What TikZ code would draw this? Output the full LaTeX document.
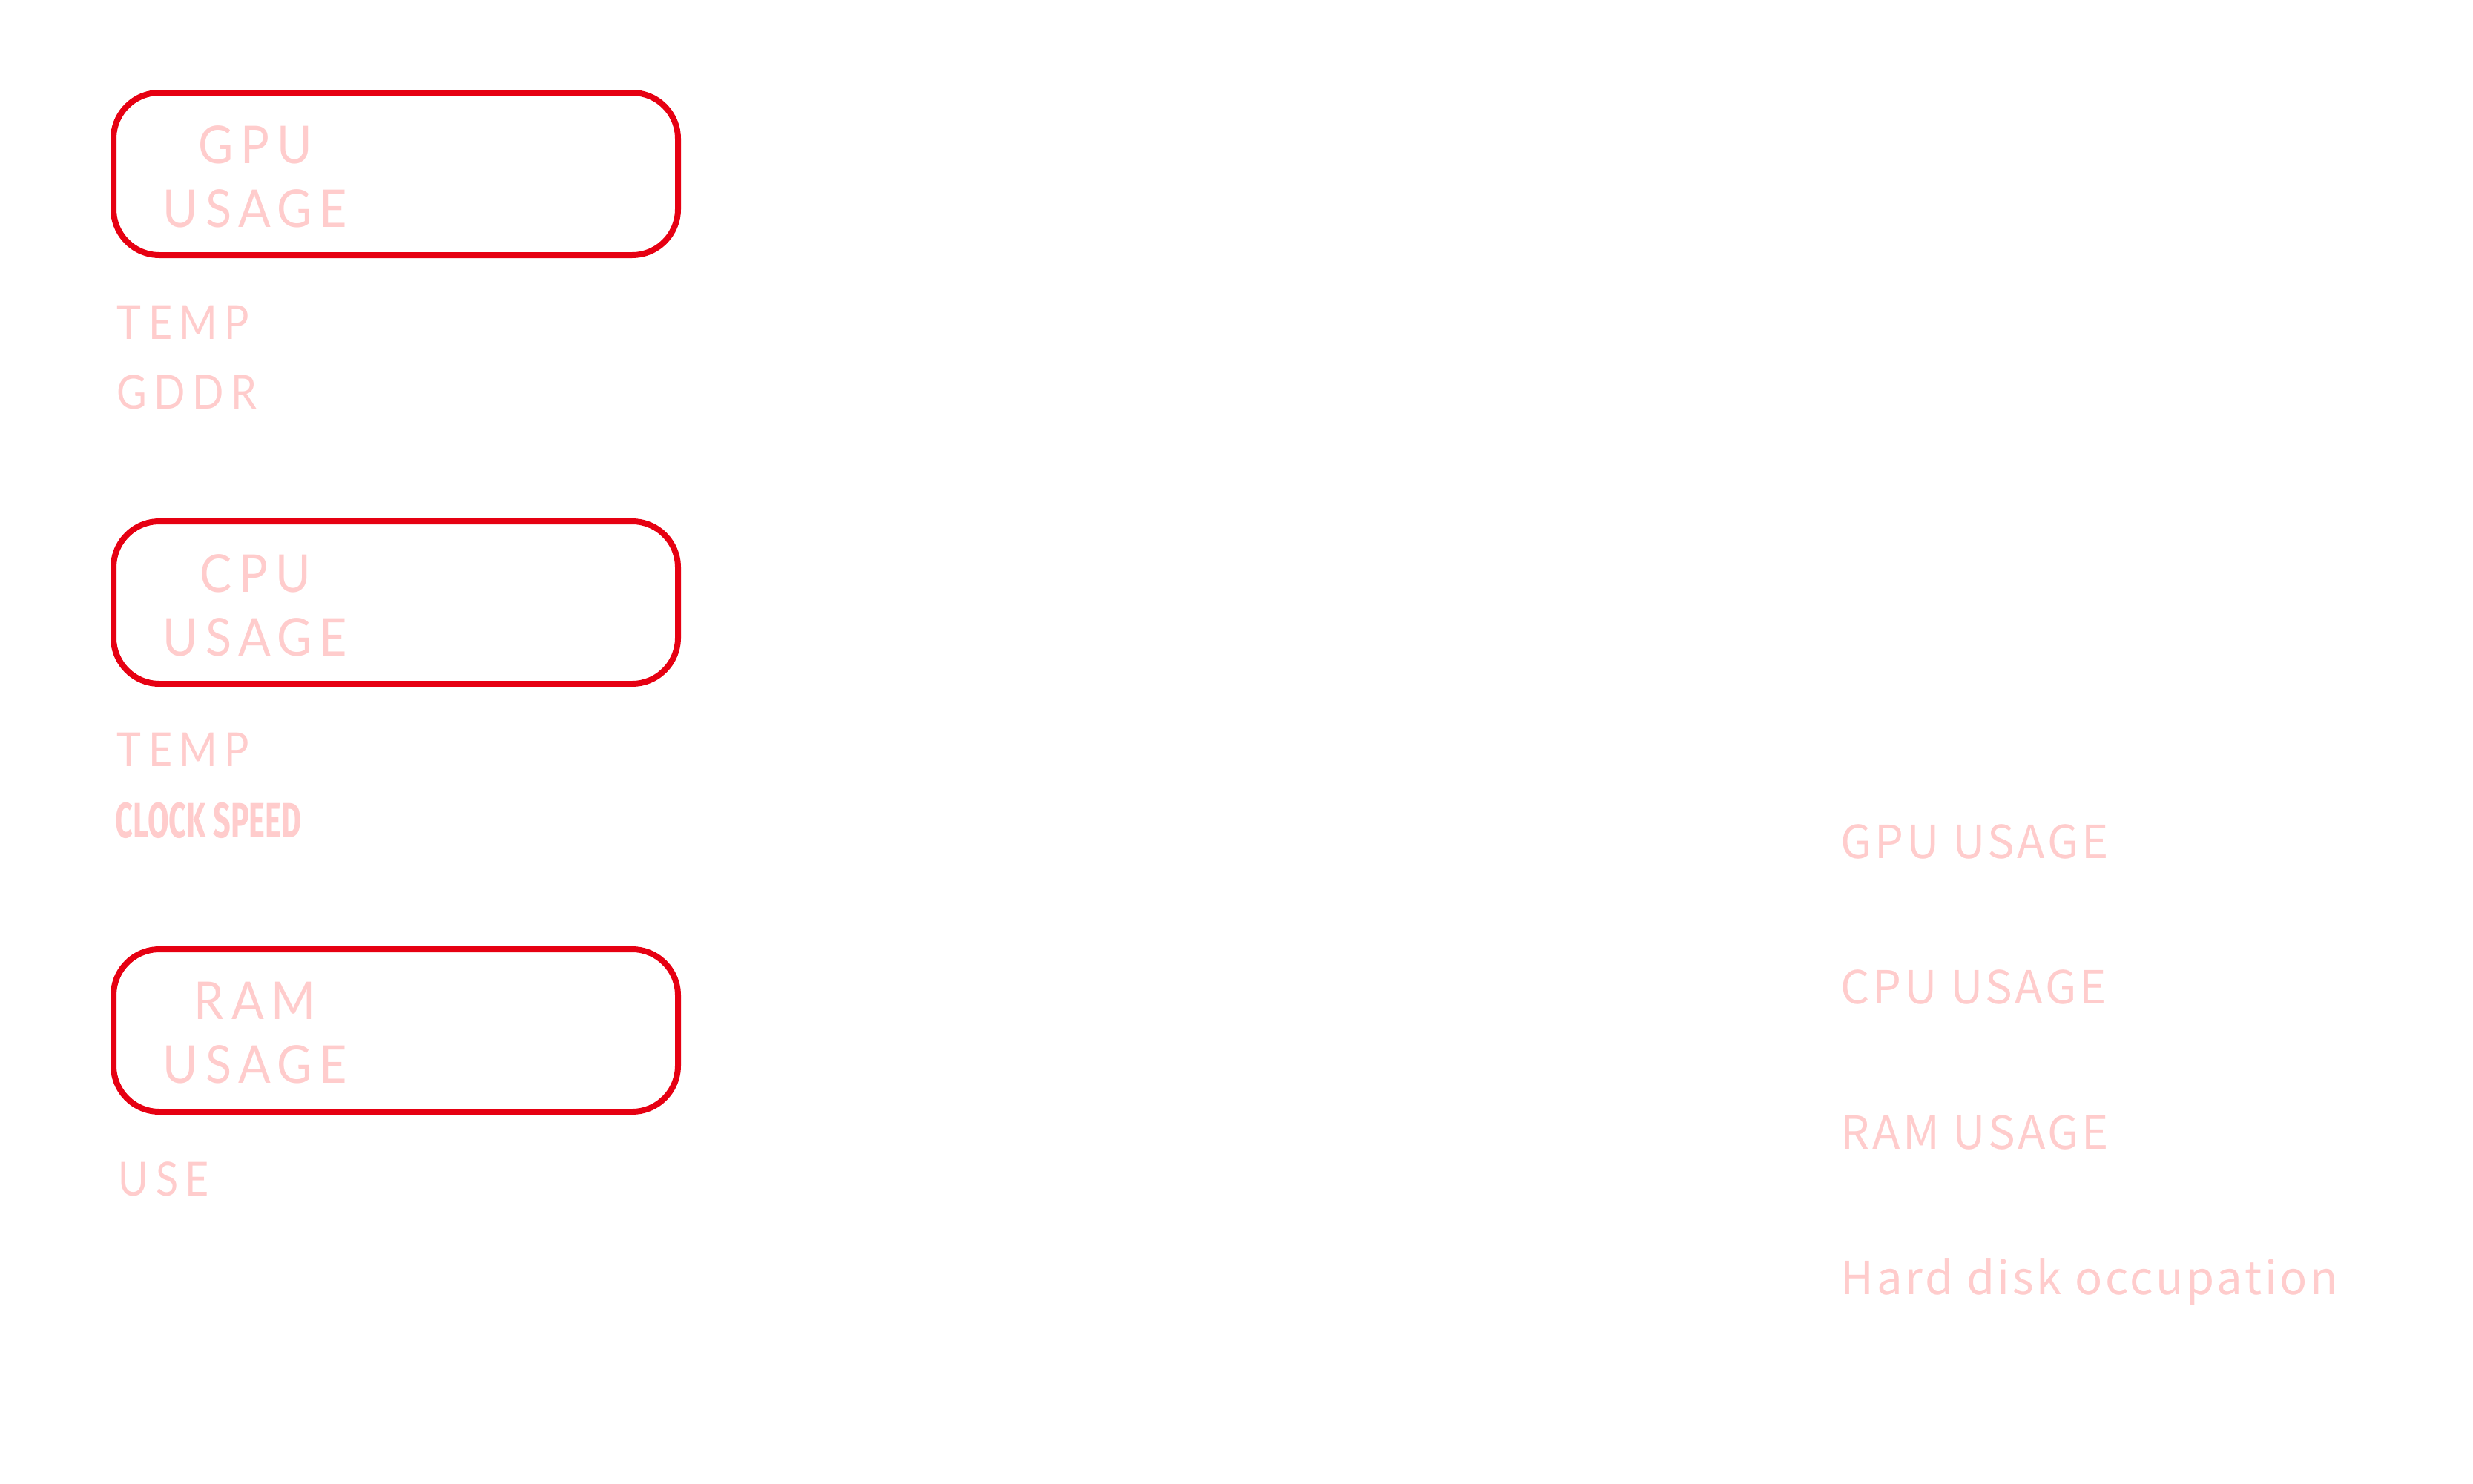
\documentclass[tikz,border=0pt]{standalone}
\usepackage{fontspec}
\usepackage{xcolor}
\usetikzlibrary{positioning}
\newfontfamily\boxfont[LetterSpace=14,FakeStretch=0.92]{Lato}
\newfontfamily\itemfont[LetterSpace=15,FakeStretch=0.88]{Lato}
\newfontfamily\sidefont[LetterSpace=6]{Noto Sans CJK SC}
\newfontfamily\clockfont[FakeStretch=0.62]{Fira Sans}
\definecolor{boxred}{HTML}{E60012}
\definecolor{softpink}{HTML}{FFCCCC}
\tikzset{
    meterbox/.style={draw=boxred, line width=0.08cm, rounded corners=0.62cm,
        minimum width=7.61cm, minimum height=2.19cm, inner sep=0pt},
    metertitle/.style={text=softpink, align=center, font=\boxfont\fontsize{20}{24.5}\selectfont, inner sep=0pt},
    meteritem/.style={text=softpink, anchor=base west, inner sep=0pt, font=\itemfont\fontsize{18}{20}\selectfont},
    sideitem/.style={text=softpink, anchor=base west, inner sep=0pt, font=\sidefont\fontsize{17.5}{22}\selectfont}
}
\begin{document}
\begin{tikzpicture}
        \useasboundingbox (0,0) rectangle (33.34,-20);

        \node[meterbox] (GPUbox) at (5.335,-2.345) {};
        \node[metertitle] (GPUtitle) at (3.44,-2.38) {GPU\\USAGE};
        \node[meteritem] (GPUtemp) at (1.57,-4.57) {TEMP};
        \node[meteritem] (GPUgddr) at (1.57,-5.51) {GDDR};

        \node[meterbox] (CPUbox) at (5.335,-8.125) {};
        \node[metertitle] (CPUtitle) at (3.44,-8.16) {CPU\\USAGE};
        \node[meteritem] (CPUtemp) at (1.57,-10.33) {TEMP};
        \node[meteritem, font=\clockfont\bfseries\fontsize{19}{20}\selectfont] (CPUclock) at (1.55,-11.29) {CLOCK SPEED};

        \node[meterbox] (RAMbox) at (5.335,-13.895) {};
        \node[metertitle] (RAMtitle) at (3.44,-13.93) {RAM\\USAGE};
        \node[meteritem] (RAMuse) at (1.59,-16.12) {USE};

        \node[sideitem] (sideGPU) at (24.81,-11.57) {GPU USAGE};
        \node[sideitem] (sideCPU) at (24.81,-13.53) {CPU USAGE};
        \node[sideitem] (sideRAM) at (24.81,-15.49) {RAM USAGE};
        \node[sideitem] (sideHDD) at (24.81,-17.45) {Hard disk occupation};
    \end{tikzpicture}
\end{document}
